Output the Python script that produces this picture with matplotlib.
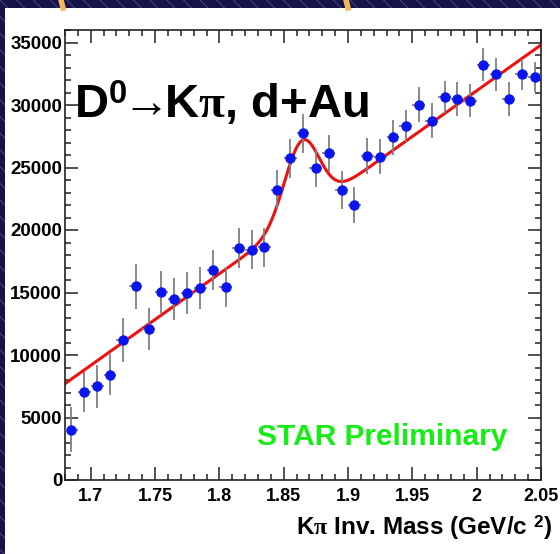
import numpy as np
import matplotlib
matplotlib.use("Agg")
import matplotlib.pyplot as plt
from matplotlib.patches import Rectangle
from matplotlib.ticker import MultipleLocator

plt.rcParams['font.family'] = ['Liberation Sans', 'DejaVu Sans']
plt.rcParams['font.weight'] = 'bold'
plt.rcParams['mathtext.fontset'] = 'custom'
plt.rcParams['mathtext.rm'] = 'Liberation Sans:bold'
plt.rcParams['mathtext.bf'] = 'Liberation Sans:bold'
plt.rcParams['mathtext.it'] = 'Liberation Serif'
plt.rcParams['hatch.linewidth'] = 0.7

# K-pi invariant mass, 0.01 GeV bins
mass = np.round(np.arange(1.685, 2.05, 0.01), 3)
counts = [4010, 7040, 7490, 8430, 11210, 15490, 12090, 15060, 14500, 14980,
          15380, 16770, 15410, 18540, 18430, 18620, 23220, 25740, 27740, 24960,
          26140, 23220, 21990, 25900, 25880, 27420, 28330, 30020, 28760, 30660,
          30520, 30360, 33230, 32450, 30500, 32450, 32240]
errors = [1800, 1580, 1730, 1640, 1740, 1770, 1700, 1670, 1700, 1700,
          1670, 1600, 1600, 1600, 1560, 1550, 1560, 1540, 1540, 1510,
          1500, 1510, 1460, 1450, 1430, 1400, 1300, 1390, 1380, 1300,
          1360, 1340, 1340, 1340, 1340, 1220, 1200]

# linear background + gaussian fit
bg_at_start = 7705
bg_slope = 73240
peak_amp = 5960
peak_mean = 1.864
peak_sigma = 0.0135

W, H = 560, 554
fig = plt.figure(figsize=(W / 100, H / 100), dpi=100)
fig.patch.set_facecolor('#16124a')
fig.patches.append(Rectangle((0, 0), 1, 1, transform=fig.transFigure,
                             facecolor='none', edgecolor='#4a4784',
                             hatch='\\\\', linewidth=0, zorder=0))
fig.patches.append(Rectangle((5 / W, 0), 1 - 5 / W, 1 - 8 / H,
                             transform=fig.transFigure, facecolor='white',
                             edgecolor='none', zorder=1))
for x0 in (61, 346):
    fig.lines.append(plt.Line2D([x0 / W, (x0 + 2) / W], [1, 1 - 8 / H],
                                transform=fig.transFigure, color='#f2b75c',
                                linewidth=4, zorder=2))

ax = fig.add_axes([65 / W, 1 - 480 / H, (541 - 65) / W, (480 - 30) / H])
ax.set_zorder(3)

xf = np.linspace(1.68, 2.05, 500)
fit = (bg_at_start + bg_slope * (xf - 1.68)
       + peak_amp * np.exp(-0.5 * ((xf - peak_mean) / peak_sigma) ** 2))
ax.plot(xf, fit, color='#ee1111', linewidth=2.2, zorder=2)

ax.errorbar(mass, counts, yerr=errors, xerr=0.005, fmt='none',
            ecolor='#808080', elinewidth=1.3, capsize=0, zorder=3)
ax.plot(mass, counts, 'o', color='#0a14f0', markersize=6.5, zorder=4)

ax.set_xlim(1.68, 2.05)
ax.set_ylim(0, 36000)
ax.xaxis.set_major_locator(MultipleLocator(0.05))
ax.xaxis.set_minor_locator(MultipleLocator(0.01))
ax.yaxis.set_major_locator(MultipleLocator(5000))
ax.yaxis.set_minor_locator(MultipleLocator(1000))
ax.set_xticks([1.7, 1.75, 1.8, 1.85, 1.9, 1.95, 2.0, 2.05])
ax.set_xticklabels(['1.7', '1.75', '1.8', '1.85', '1.9', '1.95', '2', '2.05'])
ax.tick_params(which='both', direction='in', top=True, right=True,
               color='#222222', width=1.1, labelsize=13)
ax.tick_params(axis='y', labelsize=13.5)
ax.tick_params(which='major', length=9.5)
ax.tick_params(which='minor', length=4.5)
ax.tick_params(axis='x', pad=6)
ax.tick_params(axis='y', pad=2)
for s in ax.spines.values():
    s.set_linewidth(1.2)
    s.set_color('#222222')

fig.text(74 / W, 1 - 118 / H, r'D$^{0}$$\!\!\rightarrow\!\!$K$\pi$, d+Au',
         fontsize=34, fontweight='bold', va='baseline', ha='left', zorder=5)
fig.text(257 / W, 1 - 445 / H, 'STAR Preliminary', color='#14ee14',
         fontsize=21.5, fontweight='bold', va='baseline', ha='left', zorder=5)
fig.text(552 / W, 1 - 535 / H, r'K$\pi$ Inv. Mass (GeV/c $^{2}$)',
         fontsize=17.5, fontweight='bold', va='baseline', ha='right', zorder=5)

fig.savefig('out.png', dpi=100, facecolor=fig.get_facecolor())
